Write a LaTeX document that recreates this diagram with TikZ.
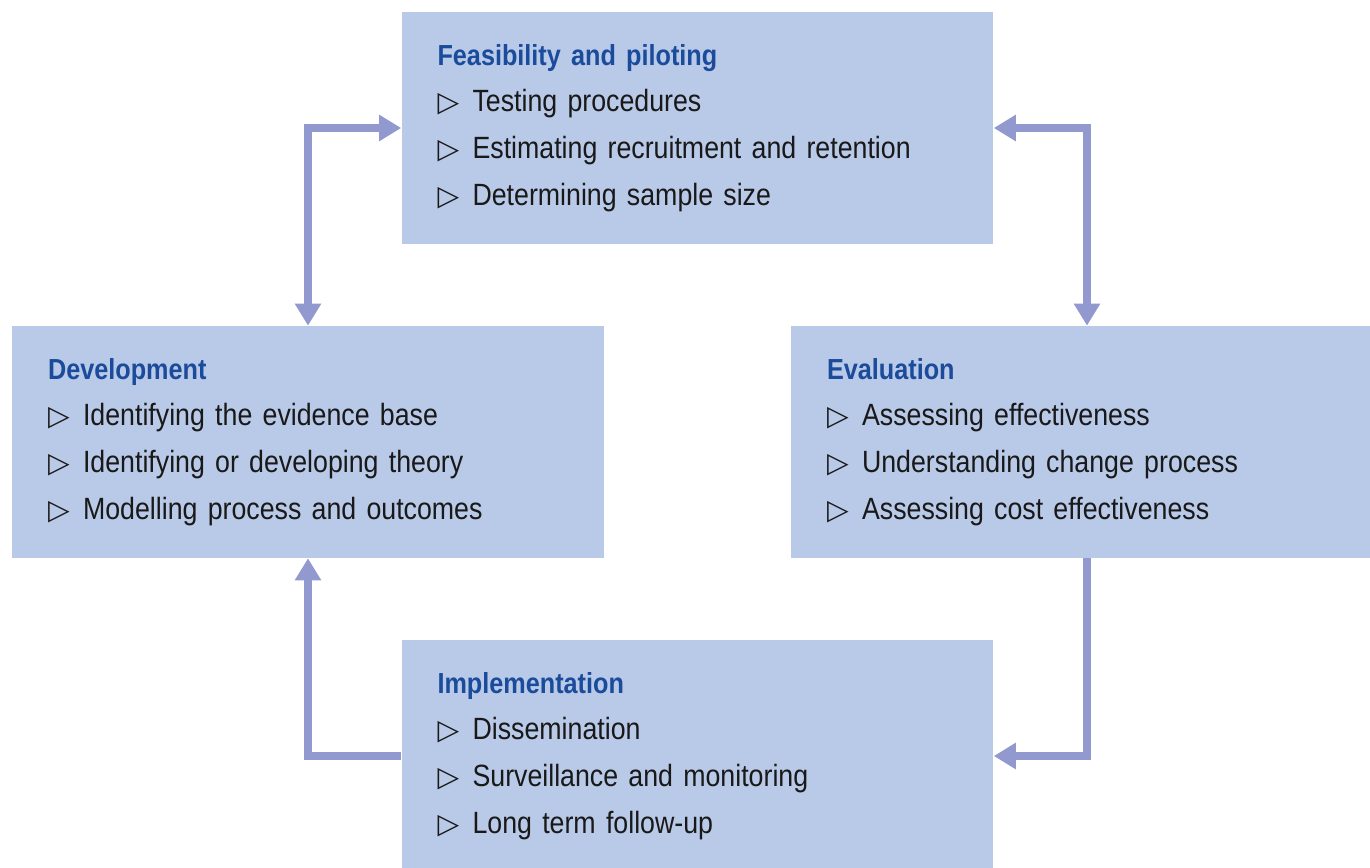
\documentclass[tikz,border=0pt]{standalone}
\usepackage{fontspec}
\setmainfont[FakeStretch=0.87, WordSpace=0.7]{Liberation Sans}
\newfontfamily\symfont{DejaVu Sans}
\usetikzlibrary{arrows.meta}

\definecolor{boxblue}{HTML}{B9C9E8}
\definecolor{flowblue}{HTML}{9199CE}
\definecolor{headblue}{HTML}{1B4B9B}

\newcommand{\bul}{\makebox[0.7cm][l]{\raisebox{0cm}{\symfont\fontsize{16}{14}\selectfont ▷}}}
\newcommand{\head}[1]{{\fontsize{16.5}{26.4}\selectfont\bfseries\color{headblue}#1}}

\begin{document}
\begin{tikzpicture}[x=0.02cm, y=-0.02cm]
      \tikzset{stage/.style={rectangle, fill=boxblue, minimum width=11.84cm,
        minimum height=4.64cm, text width=10.4cm, inner xsep=0.72cm,
        align=left, text=black!90,
        font=\fontsize{17.5}{26.6}\selectfont},
        flow/.style={draw=flowblue, line width=0.16cm,
        arrows={-Triangle[width=0.5cm, length=0.44cm]}}}
      \clip (0,0) rectangle (1370,868);
      \node[stage] at (697.5,128) (feas) {\head{Feasibility and piloting}\\
        \bul Testing procedures\\
        \bul Estimating recruitment and retention\\
        \bul Determining sample size};
      \node[stage] at (308,442) (dev) {\head{Development}\\
        \bul Identifying the evidence base\\
        \bul Identifying or developing theory\\
        \bul Modelling process and outcomes};
      \node[stage] at (1087,442) (eval) {\head{Evaluation}\\
        \bul Assessing effectiveness\\
        \bul Understanding change process\\
        \bul Assessing cost effectiveness};
      \node[stage] at (697.5,756) (impl) {\head{Implementation}\\
        \bul Dissemination\\
        \bul Surveillance and monitoring\\
        \bul Long term follow-up};
      \draw[flow, {Triangle[width=0.5cm, length=0.44cm]}-{Triangle[width=0.5cm, length=0.44cm]}]
        (dev.north) |- (feas.west);
      \draw[flow, {Triangle[width=0.5cm, length=0.44cm]}-{Triangle[width=0.5cm, length=0.44cm]}]
        (feas.east) -| (eval.north);
      \draw[flow] (eval.south) |- (impl.east);
      \draw[flow] (impl.west) -| (dev.south);
\end{tikzpicture}
\end{document}
